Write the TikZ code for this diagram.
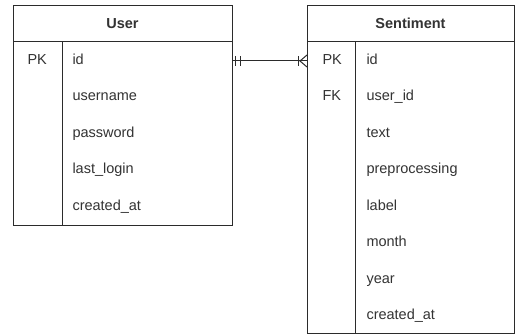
\documentclass[tikz,border=0pt]{standalone}
\usepackage{fontspec}
\setmainfont{Liberation Sans}
\definecolor{linec}{HTML}{2B2B2B}
\definecolor{textc}{HTML}{333333}
\begin{document}
\begin{tikzpicture}[x=1pt,y=-1pt,line width=1pt,
  tbl/.style={draw=linec,line width=1pt,inner sep=0pt,anchor=north west,fill=white},
  fld/.style={anchor=west,inner sep=0pt,text=textc,font=\fontsize{14.5}{16}\selectfont,text height=0.72em,text depth=0.2em,yshift=-1.2pt},
  hdr/.style={inner sep=0pt,text=textc,font=\fontsize{14.5}{16}\selectfont\bfseries,text height=0.72em,text depth=0.2em},
  sep/.style={draw=linec,line width=1pt},
  rel/.style={draw=linec,line width=1pt}]
\useasboundingbox (0,0) rectangle (516,336);
% User table
\node[tbl,minimum width=219pt,minimum height=220pt] (user) at (13,5) {};
\draw[sep] (13,42) -- (232,42);
\draw[sep] (62,42) -- (62,225);
\node[hdr] (uh) at (122.5,26) {User};
\node[fld] (upk) at (27,60.25) {PK};
\node[fld] (u1) at (72,60.25) {id};
\node[fld] (u2) at (72,96.75) {username};
\node[fld] (u3) at (72,133.25) {password};
\node[fld] (u4) at (72,169.75) {last\_login};
\node[fld] (u5) at (72,206.25) {created\_at};
% Sentiment table
\node[tbl,minimum width=207pt,minimum height=328pt] (sent) at (307,5) {};
\draw[sep] (307,42) -- (514,42);
\draw[sep] (355.5,42) -- (355.5,333);
\node[hdr] (sh) at (410.5,26) {Sentiment};
\node[fld] (spk) at (322,60.25) {PK};
\node[fld] (sfk) at (322,96.75) {FK};
\node[fld] (s1) at (366,60.25) {id};
\node[fld] (s2) at (366,96.75) {user\_id};
\node[fld] (s3) at (366,133.25) {text};
\node[fld] (s4) at (366,169.75) {preprocessing};
\node[fld] (s5) at (366,206.25) {label};
\node[fld] (s6) at (366,242.75) {month};
\node[fld] (s7) at (366,279.25) {year};
\node[fld] (s8) at (366,315.75) {created\_at};
% relation: one and only one (User) to one or many (Sentiment)
\coordinate (ua) at (232,61);
\coordinate (sa) at (307,61);
\draw[rel] (ua) -- (sa);
\draw[rel] ([xshift=3.5pt,yshift=-5pt]ua) -- ([xshift=3.5pt,yshift=5pt]ua);
\draw[rel] ([xshift=8pt,yshift=-5pt]ua) -- ([xshift=8pt,yshift=5pt]ua);
\draw[rel] ([xshift=-9pt,yshift=-5pt]sa) -- ([xshift=-9pt,yshift=5pt]sa);
\draw[rel] ([xshift=0pt,yshift=-6pt]sa) -- ([xshift=-7pt]sa) -- ([xshift=0pt,yshift=6pt]sa);
\end{tikzpicture}
\end{document}
